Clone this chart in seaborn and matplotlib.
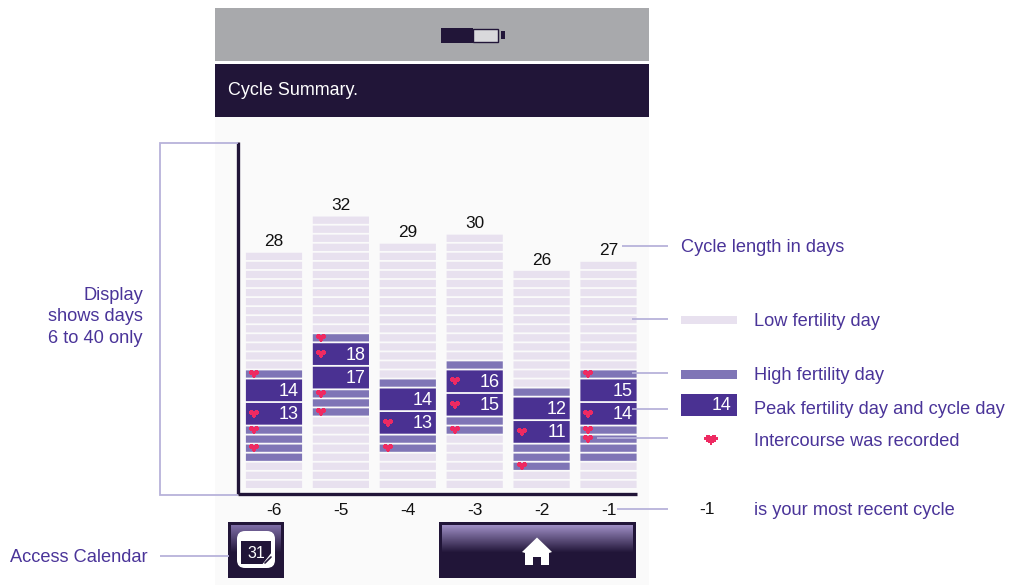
import numpy as np
import pandas as pd
import matplotlib
matplotlib.use("Agg")
import matplotlib.pyplot as plt
from matplotlib.patches import Rectangle, Polygon, FancyBboxPatch
from matplotlib.path import Path
import seaborn as sns

sns.set_theme(style="white")
plt.rcParams['font.family'] = ['Liberation Sans', 'DejaVu Sans']

# Data: rows per cycle, counted from the bottom of each column
cycles = ['-6', '-5', '-4', '-3', '-2', '-1']
cycle_lengths = [28, 32, 29, 30, 26, 27]
low_before = [3, 8, 4, 6, 2, 3]
high_before = [4, 3, 2, 2, 3, 4]
first_peak_day = [13, 17, 13, 15, 11, 14]
high_after = [1, 1, 1, 1, 1, 1]
low_after = [13, 13, 15, 14, 13, 12]
heart_rows = [[4, 6, 7, 9], [8, 10, 12, 13], [4, 6], [6, 8, 9], [2, 5], [5, 6, 7, 9]]

LOW = '#e8e1ef'
HIGH = '#7f75b6'
PEAK = '#4a3192'
DARK = '#211538'
PINK = '#ee2a62'
INK = '#4a3499'
LEADER = '#b7b2da'

# heart marker, pixel style
heart = Path(np.array([
    (-3.5, 1.5), (-3.5, 2.5), (-2.5, 2.5), (-2.5, 3.3), (-0.7, 3.3), (-0.7, 2.7), (0.7, 2.7), (0.7, 3.3),
    (2.5, 3.3), (2.5, 2.5), (3.5, 2.5), (3.5, 0.7), (2.5, 0.7), (2.5, -0.2), (1.5, -0.2), (1.5, -1.1),
    (0.6, -1.1), (0.6, -2), (-0.6, -2), (-0.6, -1.1), (-1.5, -1.1), (-1.5, -0.2), (-2.5, -0.2),
    (-2.5, 0.7), (-3.5, 0.7), (-3.5, 1.5)], dtype=float) - np.array([0, 0.65]))

fig = plt.figure(figsize=(10.11, 5.85), dpi=100, facecolor='white')

# background panels, in pixel coordinates
bg = fig.add_axes([0, 0, 1, 1], zorder=0)
bg.set_xlim(0, 1011)
bg.set_ylim(585, 0)
bg.axis('off')
bg.add_patch(Rectangle((215, 116), 434, 469, color='#fafafa', lw=0))
bg.add_patch(Rectangle((215, 8), 434, 52.5, color='#a8a9ac', lw=0))
bg.add_patch(Rectangle((215, 64), 434, 52.5, color=DARK, lw=0))
bg.text(228, 90.5, 'Cycle Summary.', color='white', fontsize=12.9, va='center', ha='left')

# battery
bg.add_patch(Rectangle((441, 28), 32, 14.5, color=DARK, lw=0))
bg.add_patch(Rectangle((473, 28.7), 25, 13, fc='#d9d9dc', ec=DARK, lw=1))
bg.add_patch(Rectangle((501, 31), 3.5, 7.5, color=DARK, lw=0))

# main chart
left, right, top, bottom = 238, 637, 142, 494
ax = fig.add_axes([left / 1011, 1 - bottom / 585, (right - left) / 1011, (bottom - top) / 585], zorder=1)
ax.patch.set_alpha(0)

px = 1 / 9.0
row_pitch = 9.05 * px
peak_pitch = 23.5 * px
gap = 1.8 * px
bar_width = 0.84

hearts = []
for i, c in enumerate(cycles):
    kinds = ['low'] * low_before[i] + ['high'] * high_before[i] + ['peak'] * 2 \
        + ['high'] * high_after[i] + ['low'] * low_after[i]
    pos = 0.0
    for r, kind in enumerate(kinds):
        pitch = peak_pitch if kind == 'peak' else row_pitch
        col = {'low': LOW, 'high': HIGH, 'peak': PEAK}[kind]
        sns.barplot(x=[c], y=[pitch - gap], order=cycles, bottom=pos, color=col, saturation=1,
                    width=bar_width, linewidth=0, errorbar=None, ax=ax)
        mid = pos + (pitch - gap) / 2
        if kind == 'peak':
            day = first_peak_day[i] + r - low_before[i] - high_before[i]
            ax.text(i + bar_width / 2 - 3.5 / 66.9, mid - 1 * px, str(day), color='white', fontsize=13,
                    ha='right', va='center')
        if r in heart_rows[i]:
            hearts.append({'x': i - 0.30, 'y': mid})
        pos += pitch
    ax.text(i, pos + 9 * px, str(cycle_lengths[i]), color='#111111', fontsize=12.4, ha='center', va='center')

# keep the row gaps even instead of snapping them to whole pixels
for p in ax.patches:
    p.set_snap(False)

heart_df = pd.DataFrame(hearts)
sns.scatterplot(data=heart_df, x='x', y='y', marker=heart, s=52, color=PINK, linewidth=0,
                legend=False, zorder=5, ax=ax)

ax.set_xlim(-0.538, 5.426)
ax.set_ylim(-6 * px, (bottom - top - 6) * px)
ax.set_xlabel('')
ax.set_ylabel('')
ax.set_yticks([])
ax.tick_params(axis='x', length=0, labelsize=12.4, pad=6.5, labelcolor='#111111')
sns.despine(ax=ax)
for side in ['left', 'bottom']:
    ax.spines[side].set_linewidth(2.4)
    ax.spines[side].set_color(DARK)
    ax.spines[side].set_capstyle('butt')

# annotation layer, in pixel coordinates
fg = fig.add_axes([0, 0, 1, 1], zorder=2)
fg.patch.set_alpha(0)
fg.axis('off')


def leader(xs, ys):
    fg.plot(xs, ys, color=LEADER, lw=1.3, solid_capstyle='butt', solid_joinstyle='miter')


leader([238, 160, 160, 238], [143, 143, 494.5, 494.5])
leader([622, 668], [246, 246])
leader([632, 668], [319, 319])
leader([632, 668], [373, 373])
leader([632, 668], [409, 409])
leader([597, 668], [438, 438])
leader([617, 668], [509, 509])
leader([160, 229], [556, 556])

label_size = 13.15
for y, txt in [(295.5, 'Display'), (316.5, 'shows days'), (338.5, '6 to 40 only')]:
    fg.text(143, y, txt, color=INK, fontsize=label_size, ha='right', va='center')
fg.text(10, 557.5, 'Access Calendar', color=INK, fontsize=label_size, ha='left', va='center')
fg.text(681, 247.5, 'Cycle length in days', color=INK, fontsize=label_size, ha='left', va='center')
fg.text(754, 321.5, 'Low fertility day', color=INK, fontsize=label_size, ha='left', va='center')
fg.text(754, 375.5, 'High fertility day', color=INK, fontsize=label_size, ha='left', va='center')
fg.text(754, 409.5, 'Peak fertility day and cycle day', color=INK, fontsize=label_size, ha='left', va='center')
fg.text(754, 441.5, 'Intercourse was recorded', color=INK, fontsize=label_size, ha='left', va='center')
fg.text(754, 510.5, 'is your most recent cycle', color=INK, fontsize=label_size, ha='left', va='center')
fg.text(707, 510, '-1', color='#111111', fontsize=12.4, ha='center', va='center')

# legend swatches
fg.add_patch(Rectangle((681, 315.5), 56, 8, color=LOW, lw=0))
fg.add_patch(Rectangle((681, 370), 56, 9, color=HIGH, lw=0))
fg.add_patch(Rectangle((681, 394), 56, 22, color=PEAK, lw=0))
fg.text(731, 405.5, '14', color='white', fontsize=12.8, ha='right', va='center')
fg.scatter([711], [440], marker=heart, s=88, color=PINK, linewidths=0)

# calendar button
fg.add_patch(Rectangle((228, 522), 56, 56, color=DARK, lw=0))
fg.imshow(np.linspace(0, 1, 30).reshape(-1, 1), extent=(231, 281, 553, 525), aspect='auto', zorder=1,
          cmap=matplotlib.colors.LinearSegmentedColormap.from_list('cal', ['#7d6ca5', DARK]))
fg.add_patch(FancyBboxPatch((237, 531), 38, 37, boxstyle='round,pad=0,rounding_size=8',
                            fc='white', ec='none', lw=0, zorder=2))
fg.add_patch(Rectangle((241, 541), 30, 23, color=DARK, lw=0, zorder=3))
fg.text(256, 553.5, '31', color='white', fontsize=11.5, ha='center', va='center', zorder=4)
fg.add_patch(Polygon([(272, 552), (272, 566), (261, 566)], color='white', lw=0, zorder=4))
fg.plot([265, 271], [563, 557], color=DARK, lw=1.2, zorder=5)

# home button
fg.add_patch(Rectangle((439, 522), 197, 56, color=DARK, lw=0))
fg.imshow(np.linspace(0, 1, 30).reshape(-1, 1), extent=(442, 633, 553, 525), aspect='auto', zorder=1,
          cmap=matplotlib.colors.LinearSegmentedColormap.from_list('home', ['#9d8dc3', DARK]))
fg.add_patch(Polygon([(537, 537.5), (552, 552), (549, 553), (549, 565), (541, 565), (541, 557), (533, 557),
                      (533, 565), (525, 565), (525, 553), (522, 552)], color='white', lw=0, zorder=3))

fg.set_xlim(0, 1011)
fg.set_ylim(585, 0)

fig.savefig('out.png', dpi=100)
